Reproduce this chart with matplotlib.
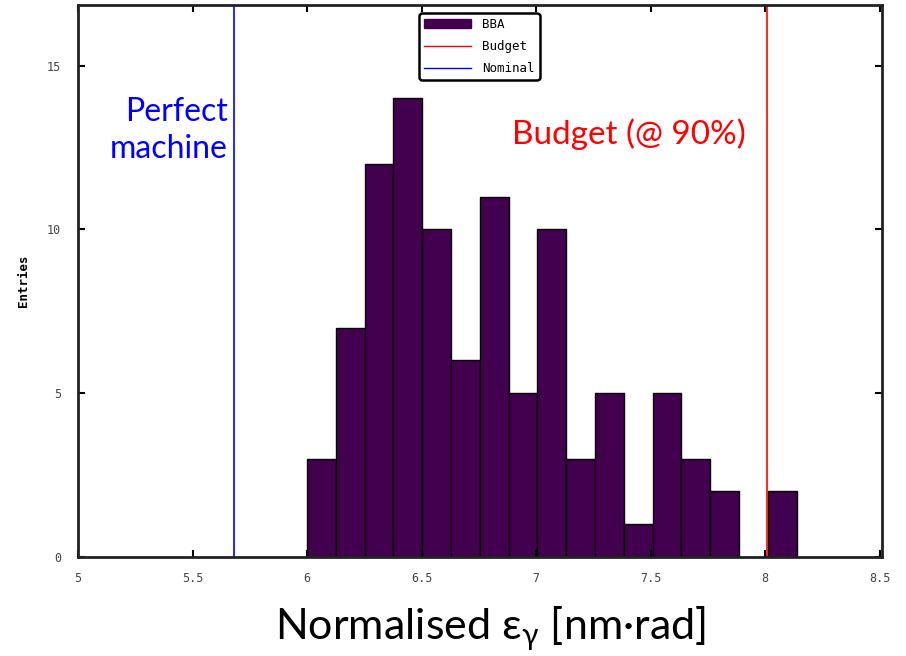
import matplotlib
matplotlib.use('Agg')
import matplotlib.pyplot as plt
from matplotlib.patches import Patch
from matplotlib.lines import Line2D

# histogram of BBA results
bin_start = 6.0
bin_width = 0.1257
counts = [3, 7, 12, 14, 10, 6, 11, 5, 10, 3, 5, 1, 5, 3, 2, 0, 2]
budget_x = 8.007
nominal_x = 5.68

x_ticks = [5, 5.5, 6, 6.5, 7, 7.5, 8, 8.5]
x_tick_labels = ['5', '5.5', '6', '6.5', '7', '7.5', '8', '8.5']
y_ticks = [0, 5, 10, 15]

bar_color = '#43004e'
mono = 'DejaVu Sans Mono'
big = 'Lato'

fig = plt.figure(figsize=(9.06, 6.56), dpi=100)
ax = fig.add_axes([0.0861, 0.1509, 0.8874, 0.8415])

edges = [bin_start + i * bin_width for i in range(len(counts))]
ax.bar(edges, counts, width=bin_width, align='edge', color=bar_color,
       edgecolor='black', linewidth=1.0, label='BBA')
ax.axvline(budget_x, color='red', linewidth=1.2)
ax.axvline(nominal_x, color='blue', linewidth=1.2)

ax.set_xlim(5, 8.51)
ax.set_ylim(0, 16.85)
ax.set_xticks(x_ticks)
ax.set_xticklabels(x_tick_labels)
ax.set_yticks(y_ticks)
ax.tick_params(direction='in', length=5, width=1.5, top=True, right=True,
               labelsize=8.5, labelcolor='#444444')
ax.tick_params(axis='x', pad=11)
ax.tick_params(axis='y', pad=12)
for lbl in ax.get_xticklabels() + ax.get_yticklabels():
    lbl.set_family(mono)
for sp in ax.spines.values():
    sp.set_linewidth(2)
    sp.set_color('#222222')

ax.set_ylabel('Entries', family=mono, fontweight='bold', fontsize=9, labelpad=12)

handles = [Patch(facecolor=bar_color, edgecolor=bar_color),
           Line2D([], [], color='red', linewidth=1),
           Line2D([], [], color='blue', linewidth=1)]
leg = ax.legend(handles, ['BBA', 'Budget', 'Nominal'], loc='upper center',
                bbox_to_anchor=(0.499, 0.995), prop={'family': mono, 'size': 9},
                frameon=True, fancybox=True, edgecolor='black', framealpha=1,
                borderpad=0.4, handlelength=3.8, labelspacing=0.75, handletextpad=0.9,
                borderaxespad=0.4)
leg.get_frame().set_linewidth(1.8)
leg.get_frame().set_boxstyle('round', pad=0, rounding_size=0.3)

ax.text(5.655, 14.05, 'Perfect\nmachine', color='blue', fontsize=23, family=big,
        ha='right', va='top', linespacing=1.3)
ax.text(6.894, 12.9, 'Budget (@ 90%)', color='red', fontsize=24, family=big,
        ha='left', va='center')

fig.text(0.541, 0.042, 'Normalised ε$_\\mathregular{γ}$ [nm·rad]', fontsize=31,
         family=big, ha='center', va='center')

fig.savefig('out.png', dpi=100)
